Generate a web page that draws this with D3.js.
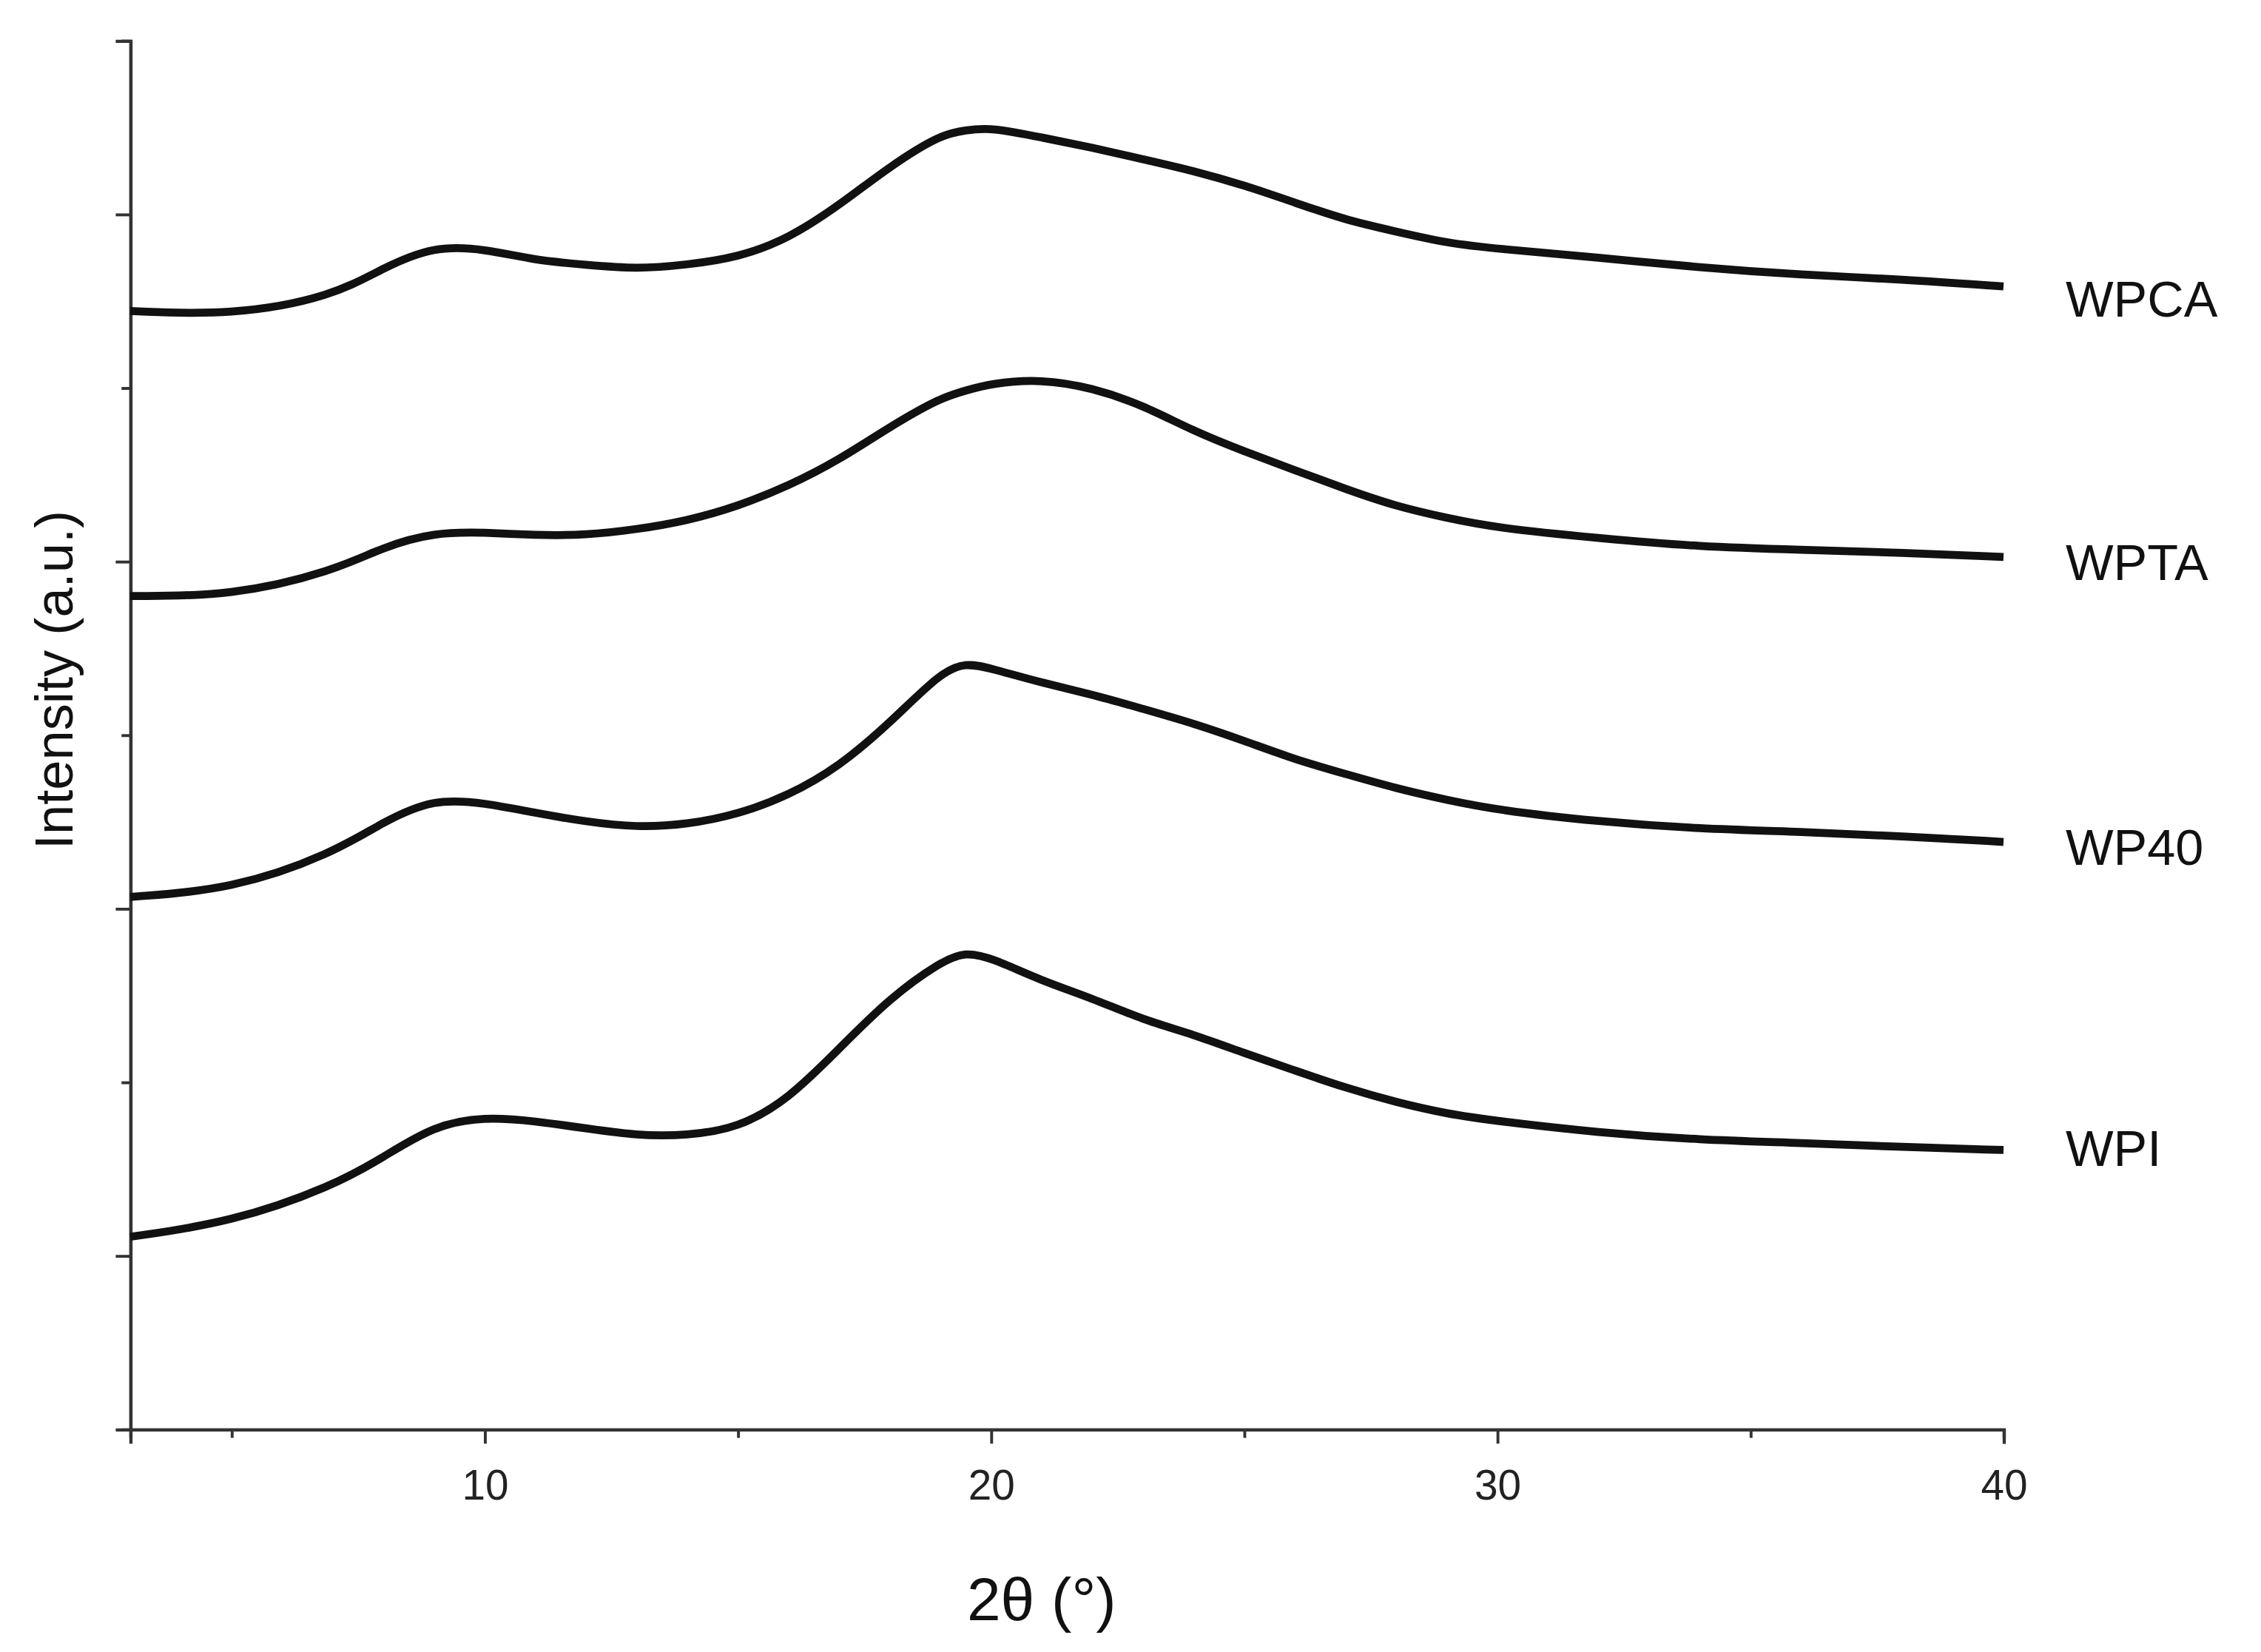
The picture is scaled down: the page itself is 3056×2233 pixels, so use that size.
<!DOCTYPE html>
<html>
<head>
<meta charset="utf-8">
<script src="https://cdn.jsdelivr.net/npm/d3@7"></script>
<style>
  body { margin: 0; background: #ffffff; }
</style>
</head>
<body>
<div id="chart"></div>
<script>
// 2-theta positions (degrees)
let twoTheta = [3, 5, 7, 8, 9, 10, 11, 12, 13, 14, 15, 16, 17, 18, 19, 19.5, 20, 21, 22, 23, 24, 25, 26, 27, 28, 29, 30, 32, 34, 36, 38, 40];

// intensities (a.u., stacked offsets included)
let wpi  = [133, 143, 168, 188, 210, 216, 213, 208, 203, 203, 208, 228, 263, 298, 323, 330, 326, 310, 298, 283, 273, 260, 248, 236, 226, 218, 213, 205, 200, 198, 195, 193];
let wp40 = [368, 373, 398, 420, 436, 433, 426, 420, 416, 418, 425, 438, 458, 488, 523, 530, 526, 516, 508, 498, 488, 476, 463, 453, 443, 435, 428, 420, 415, 413, 410, 406];
let wpta = [576, 576, 593, 610, 620, 620, 618, 618, 622, 628, 638, 652, 670, 693, 713, 718, 723, 726, 720, 708, 690, 676, 663, 650, 638, 630, 623, 616, 610, 608, 606, 603];
let wpca = [773, 770, 783, 803, 818, 816, 808, 805, 802, 805, 810, 823, 846, 873, 895, 898, 900, 893, 886, 878, 870, 860, 848, 836, 828, 820, 816, 810, 803, 798, 795, 790];

let seriesNames = ["WPI", "WP40", "WPTA", "WPCA"];
let seriesValues = [wpi, wp40, wpta, wpca];
let labelOffsets = [-5, 0, 0, 5];

let xTicksMajor = [10, 20, 30, 40];
let xTicksMinor = [5, 15, 25, 35];
let yTicksMajor = [120, 360, 600, 840];
let yTicksMinor = [240, 480, 720, 960];

function drawChart() {
  let W = 1563, H = 1142;
  let left = 90, right = 1385, top = 28, bottom = 988;

  let svg = d3.select("#chart").append("svg")
    .attr("width", 3056)
    .attr("height", 2233)
    .attr("viewBox", "0 0 " + W + " " + H);

  svg.append("rect").attr("width", W).attr("height", H).attr("fill", "#fff");

  let x = d3.scaleLinear().domain([3, 40]).range([left, right]);
  let y = d3.scaleLinear().domain([0, 960]).range([bottom, top]);

  // axes
  let xAxis = svg.append("g").attr("transform", "translate(0," + bottom + ")")
    .call(d3.axisBottom(x).tickValues(xTicksMajor).tickSize(10).tickPadding(18).tickFormat(d3.format("d")));
  svg.append("g").attr("transform", "translate(0," + bottom + ")")
    .call(d3.axisBottom(x).tickValues(xTicksMinor).tickSize(6).tickFormat(""));
  xAxis.selectAll("text").attr("font-size", 29).attr("font-family", "Liberation Sans, Arial").attr("fill", "#222");

  svg.append("g").attr("transform", "translate(" + left + ",0)")
    .call(d3.axisLeft(y).tickValues(yTicksMajor).tickSize(10).tickFormat(""));
  svg.append("g").attr("transform", "translate(" + left + ",0)")
    .call(d3.axisLeft(y).tickValues(yTicksMinor).tickSize(6).tickFormat(""));

  svg.selectAll(".domain").attr("stroke", "#333").attr("stroke-width", 2.2);
  svg.selectAll(".tick line").attr("stroke", "#333").attr("stroke-width", 2);

  // curves
  let line = d3.line()
    .x(function(d, i) { return x(twoTheta[i]); })
    .y(function(d) { return y(d); })
    .curve(d3.curveBasis);

  seriesValues.forEach(function(vals, s) {
    svg.append("path")
      .attr("d", line(vals))
      .attr("fill", "none")
      .attr("stroke", "#111")
      .attr("stroke-width", 5.5)
      .attr("stroke-linejoin", "round");

    svg.append("text")
      .attr("x", 1428)
      .attr("y", y(vals[vals.length - 1]) + labelOffsets[s] + 16)
      .attr("font-size", 35)
      .attr("font-family", "Liberation Sans, Arial")
      .attr("fill", "#111")
      .text(seriesNames[s]);
  });

  // axis titles
  svg.append("text")
    .attr("transform", "translate(50," + 470 + ") rotate(-90)")
    .attr("text-anchor", "middle")
    .attr("font-size", 37)
    .attr("font-family", "Liberation Sans, Arial")
    .attr("fill", "#111")
    .text("Intensity (a.u.)");

  svg.append("text")
    .attr("x", 720)
    .attr("y", 1120)
    .attr("text-anchor", "middle")
    .attr("font-size", 42)
    .attr("font-family", "Liberation Sans, Arial")
    .attr("fill", "#111")
    .text("2θ (°)");
}

drawChart();
</script>
</body>
</html>
